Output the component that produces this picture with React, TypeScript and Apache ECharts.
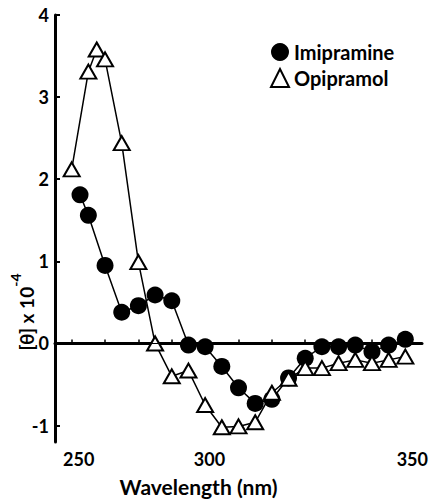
import React, { useEffect, useRef } from "react";
import * as echarts from "echarts";

const imipramineWavelength = [252.5, 255, 260, 265, 270, 275, 280, 285, 290, 295, 300, 305, 310, 315, 320, 325, 330, 335, 340, 345, 350];
const imipramineTheta = [1.81, 1.56, 0.95, 0.38, 0.46, 0.59, 0.52, -0.02, -0.04, -0.28, -0.54, -0.73, -0.68, -0.42, -0.18, -0.04, -0.04, -0.02, -0.1, -0.02, 0.05];

const opipramolWavelength = [250, 255, 257.5, 260, 265, 270, 275, 280, 285, 290, 295, 300, 305, 310, 315, 320, 325, 330, 335, 340, 345, 350];
const opipramolTheta = [2.12, 3.31, 3.58, 3.46, 2.44, 0.99, 0.0, -0.4, -0.33, -0.75, -1.02, -1.01, -0.96, -0.6, -0.43, -0.3, -0.3, -0.24, -0.2, -0.24, -0.2, -0.16];

const xTicks = [250, 260, 270, 280, 290, 300, 310, 320, 330, 340, 350];
const xTickLabels = [250, 300, 350];
const yTicks = [-1, 0, 1, 2, 3, 4];

const FONT = "Lato";

export default function App() {
  const ref = useRef<HTMLDivElement>(null);
  useEffect(() => {
    if (!ref.current) return;
    const chart = echarts.init(ref.current, null, { renderer: "svg" });
    const pair = (xs: number[], ys: number[]) => xs.map((x, i) => [x, ys[i]]);
    chart.setOption({
      animation: false,
      backgroundColor: "#fff",
      grid: { left: 55, right: 9, top: 15, bottom: 50 },
      legend: {
        orient: "vertical",
        left: 265,
        top: 37,
        itemWidth: 18,
        itemHeight: 18,
        itemGap: 6,
        textStyle: { fontFamily: FONT, fontWeight: "bold", fontSize: 20, color: "#000" },
        data: [
          { name: "Imipramine", icon: "circle", itemStyle: { color: "#000" } },
          { name: "Opipramol", icon: "triangle", itemStyle: { color: "#fff", borderColor: "#000", borderWidth: 2 } },
        ],
      },
      xAxis: {
        type: "value",
        min: 245,
        max: 355,
        axisLine: { lineStyle: { color: "#000", width: 3 } },
        axisTick: { inside: true, length: 4, lineStyle: { color: "#000", width: 1.5 }, customValues: xTicks },
        splitLine: { show: false },
        axisLabel: {
          customValues: xTickLabels,
          margin: 8,
          formatter: (v: number) => (v === 300 ? `{l|${v}}` : `{r|${v}}`),
          rich: {
            l: { fontFamily: FONT, fontWeight: "bold", fontSize: 18, color: "#000", padding: [0, 58, 0, 0] },
            r: { fontFamily: FONT, fontWeight: "bold", fontSize: 18, color: "#000", padding: [0, 0, 0, 14] },
          },
        },
        name: "Wavelength (nm)",
        nameLocation: "middle",
        nameGap: 34,
        nameTextStyle: { fontFamily: FONT, fontWeight: "bold", fontSize: 21, color: "#000", padding: [0, 80, 0, 0] },
      },
      yAxis: {
        type: "value",
        min: -1.2,
        max: 4,
        axisLine: { show: true, lineStyle: { color: "#000", width: 3 } },
        axisTick: { show: true, inside: true, length: 5, lineStyle: { color: "#000", width: 2 }, customValues: yTicks },
        splitLine: { show: false },
        axisLabel: {
          customValues: yTicks,
          margin: 6,
          fontFamily: FONT,
          fontWeight: "bold",
          fontSize: 18,
          color: "#000",
          formatter: (v: number) => (v < 0 ? "-" + Math.abs(v) : String(v)),
        },
      },
      graphic: [
        {
          type: "text",
          x: 22,
          y: 312,
          rotation: Math.PI / 2,
          style: {
            text: "{a|[θ] x 10}{s|-4}",
            align: "center",
            verticalAlign: "middle",
            rich: {
              a: { fontFamily: FONT, fontWeight: "bold", fontSize: 19, fill: "#000", lineHeight: 28, verticalAlign: "bottom" },
              s: { fontFamily: FONT, fontWeight: "bold", fontSize: 14, fill: "#000", lineHeight: 14, verticalAlign: "top" },
            },
          },
        },
      ],
      series: [
        {
          name: "Imipramine",
          type: "line",
          data: pair(imipramineWavelength, imipramineTheta),
          symbol: "circle",
          symbolSize: 17,
          itemStyle: { color: "#000" },
          lineStyle: { color: "#000", width: 1.5 },
          markLine: {
            silent: true,
            symbol: "none",
            label: { show: false },
            lineStyle: { color: "#000", width: 1.2, type: "solid" },
            data: [{ yAxis: 0 }],
          },
        },
        {
          name: "Opipramol",
          type: "line",
          data: pair(opipramolWavelength, opipramolTheta),
          symbol: "triangle",
          symbolSize: [16, 14],
          itemStyle: { color: "#fff", borderColor: "#000", borderWidth: 2 },
          lineStyle: { color: "#000", width: 1.5 },
        },
      ],
    });
    return () => chart.dispose();
  }, []);
  return <div ref={ref} style={{ position: "fixed", left: 0, top: 0, width: 431, height: 502 }} />;
}
